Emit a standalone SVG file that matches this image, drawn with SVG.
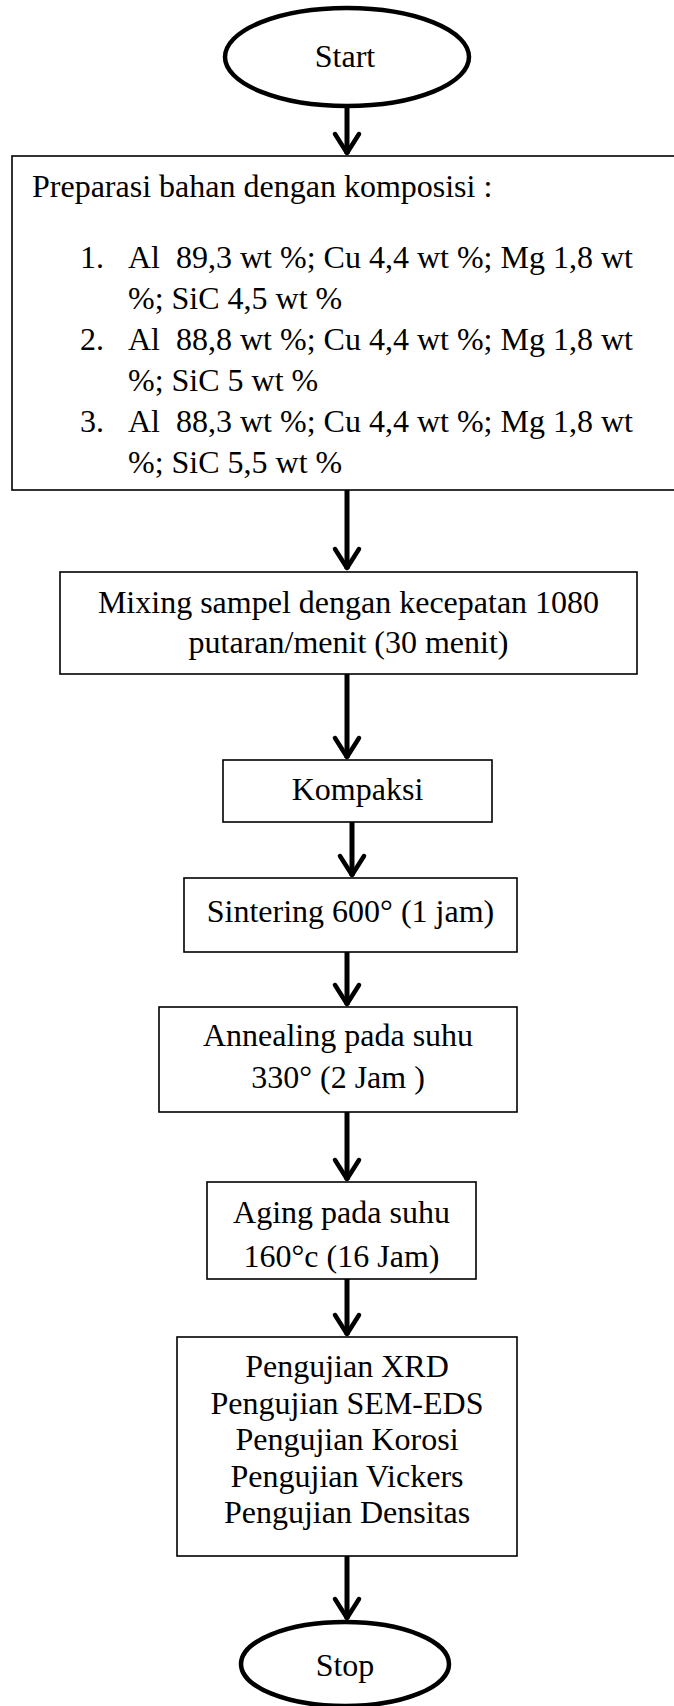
<svg xmlns="http://www.w3.org/2000/svg" width="674" height="1706" viewBox="0 0 674 1706">
<defs>
<style>
text{font-family:"Liberation Serif","Times New Roman",serif;font-size:32px;fill:#000;white-space:pre}
.c{text-anchor:middle}
.box{fill:#fff;stroke:#000;stroke-width:1.6}
.term{fill:#fff;stroke:#000;stroke-width:4.5}
.conn{stroke:#000;stroke-width:5;fill:none}
</style>
<marker id="arr" markerUnits="userSpaceOnUse" markerWidth="34" markerHeight="34" viewBox="-26 -17 34 34" refX="0" refY="0" orient="auto">
<path d="M-20,-12 L-1,0 L-20,12" fill="none" stroke="#000" stroke-width="4.5" stroke-linecap="round" stroke-linejoin="round"/>
</marker>
</defs>
<rect width="674" height="1706" fill="#fff"/>
<g id="connectors">
<line class="conn" x1="347" y1="106" x2="347" y2="154" marker-end="url(#arr)"/>
<line class="conn" x1="347" y1="490" x2="347" y2="569" marker-end="url(#arr)"/>
<line class="conn" x1="347" y1="674" x2="347" y2="758" marker-end="url(#arr)"/>
<line class="conn" x1="352" y1="822" x2="352" y2="876" marker-end="url(#arr)"/>
<line class="conn" x1="347" y1="952" x2="347" y2="1005" marker-end="url(#arr)"/>
<line class="conn" x1="347" y1="1112" x2="347" y2="1180" marker-end="url(#arr)"/>
<line class="conn" x1="347" y1="1279" x2="347" y2="1335" marker-end="url(#arr)"/>
<line class="conn" x1="347" y1="1556" x2="347" y2="1619" marker-end="url(#arr)"/>
</g>
<g id="start">
<ellipse class="term" cx="347" cy="57" rx="122" ry="49"/>
<text class="c" x="345" y="67">Start</text>
</g>
<g id="preparasi">
<rect class="box" x="12" y="156" width="670" height="334"/>
<text x="32" y="197">Preparasi bahan dengan komposisi :</text>
<text x="80" y="268">1.</text>
<text x="128" y="268" xml:space="preserve">Al  89,3 wt %; Cu 4,4 wt %; Mg 1,8 wt</text>
<text x="128" y="309">%; SiC 4,5 wt %</text>
<text x="80" y="350">2.</text>
<text x="128" y="350" xml:space="preserve">Al  88,8 wt %; Cu 4,4 wt %; Mg 1,8 wt</text>
<text x="128" y="391">%; SiC 5 wt %</text>
<text x="80" y="432">3.</text>
<text x="128" y="432" xml:space="preserve">Al  88,3 wt %; Cu 4,4 wt %; Mg 1,8 wt</text>
<text x="128" y="473">%; SiC 5,5 wt %</text>
</g>
<g id="mixing">
<rect class="box" x="60" y="572" width="577" height="102"/>
<text class="c" x="348.5" y="613">Mixing sampel dengan kecepatan 1080</text>
<text class="c" x="348.5" y="653">putaran/menit (30 menit)</text>
</g>
<g id="kompaksi">
<rect class="box" x="223" y="760" width="269" height="62"/>
<text class="c" x="357.5" y="800">Kompaksi</text>
</g>
<g id="sintering">
<rect class="box" x="184" y="878" width="333" height="74"/>
<text class="c" x="350.5" y="922">Sintering 600° (1 jam)</text>
</g>
<g id="annealing">
<rect class="box" x="159" y="1007" width="358" height="105"/>
<text class="c" x="338" y="1046">Annealing pada suhu</text>
<text class="c" x="338" y="1088">330° (2 Jam )</text>
</g>
<g id="aging">
<rect class="box" x="207" y="1182" width="269" height="97"/>
<text class="c" x="341.5" y="1223">Aging pada suhu</text>
<text class="c" x="341.5" y="1267">160°c (16 Jam)</text>
</g>
<g id="pengujian">
<rect class="box" x="177" y="1337" width="340" height="219"/>
<text class="c" x="347" y="1377">Pengujian XRD</text>
<text class="c" x="347" y="1413.5">Pengujian SEM-EDS</text>
<text class="c" x="347" y="1450">Pengujian Korosi</text>
<text class="c" x="347" y="1486.5">Pengujian Vickers</text>
<text class="c" x="347" y="1523">Pengujian Densitas</text>
</g>
<g id="stop">
<ellipse class="term" cx="345" cy="1664" rx="104" ry="42"/>
<text class="c" x="345" y="1676">Stop</text>
</g>
</svg>
